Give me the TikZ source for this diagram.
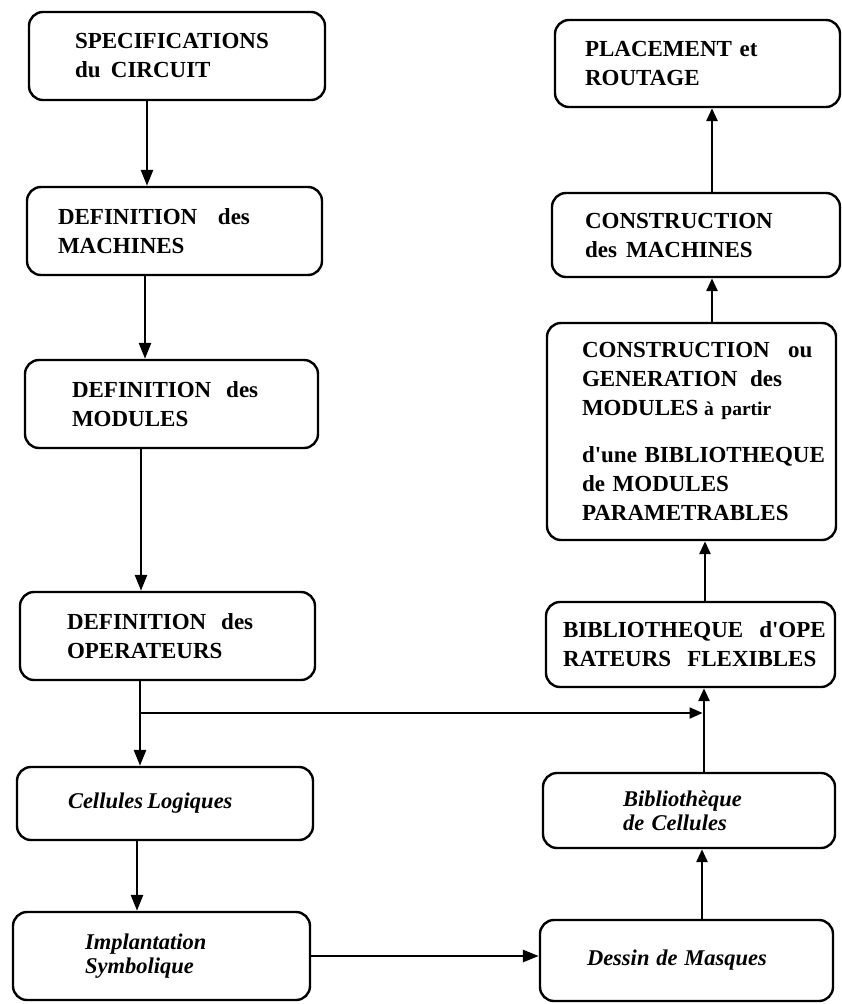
\documentclass[tikz,border=0pt]{standalone}
\usepackage{fontspec}
\setmainfont{Liberation Serif}
\usetikzlibrary{arrows.meta}

\begin{document}
\begin{tikzpicture}[x=1pt,y=-1pt,
  box/.style={draw, line width=2.4pt, rounded corners=14pt, align=left,
    inner ysep=0pt, font=\bfseries\fontsize{23}{29}\selectfont},
  itbox/.style={box, font=\bfseries\itshape\fontsize{22.5}{24}\selectfont},
  flow/.style={line width=2.8pt, -{Triangle[length=16pt,width=12pt]}},
  flowup/.style={line width=2.8pt, -{Triangle[length=13pt,width=11pt]}},
  feed/.style={line width=1.8pt, -{Triangle[length=13pt,width=11pt]}},
]
\useasboundingbox[fill=white] (0,0) rectangle (842,1004);

% left column: from specification down to symbolic layout
\node[box, minimum height=88pt, inner xsep=46pt, text width=204pt] (b1) at (177,56)
  {\mbox{SPECIFICATIONS}\\\mbox{du\hspace{0.45em}CIRCUIT}};
\node[box, minimum height=88pt, inner xsep=31pt, text width=233pt] (b2) at (174.5,231)
  {\mbox{DEFINITION\hspace{0.9em}des}\\\mbox{MACHINES}};
\node[box, minimum height=88pt, inner xsep=47pt, text width=199pt] (b3) at (171.5,404)
  {\mbox{DEFINITION\hspace{0.65em}des}\\\mbox{MODULES}};
\node[box, minimum height=88pt, inner xsep=47pt, text width=201pt] (b4) at (167.5,636)
  {\mbox{DEFINITION\hspace{0.65em}des}\\\mbox{OPERATEURS}};
\node[itbox, minimum height=73pt, inner xsep=51pt, text width=194pt] (b5) at (165,803.5)
  {\mbox{Cellules\hspace{0.2em}Logiques}};
\node[itbox, minimum height=88pt, inner xsep=72pt, text width=153pt] (b6) at (161.5,956)
  {\mbox{Implantation}\\\mbox{Symbolique}};

% right column: from mask drawing up to placement and routing
\node[box, minimum height=87pt, inner xsep=30pt, text width=225pt] (r1) at (697.5,63.5)
  {\mbox{PLACEMENT et}\\\mbox{ROUTAGE}};
\node[box, minimum height=84pt, inner xsep=33pt, text width=222pt] (r2) at (696,235)
  {\mbox{CONSTRUCTION}\\\mbox{des\hspace{0.4em}MACHINES}};
\node[box, minimum height=217pt, inner xsep=35pt, text width=219pt] (r3) at (691.5,431.5)
  {\mbox{CONSTRUCTION\hspace{0.8em}ou}\\
   \mbox{GENERATION\hspace{0.55em}des}\\
   \mbox{MODULES\hspace{0.25em}{\fontsize{19.5}{29}\selectfont à partir}}\\[18pt]
   \mbox{d\textquotesingle une BIBLIOTHEQUE}\\
   \mbox{de MODULES}\\
   \mbox{PARAMETRABLES}};
\node[box, minimum height=85pt, inner xsep=17pt, text width=255pt] (r4) at (690.5,644.5)
  {\mbox{BIBLIOTHEQUE\hspace{0.7em}d\textquotesingle OPE}\\\mbox{RATEURS\hspace{0.7em}FLEXIBLES}};
\node[itbox, minimum height=75pt, inner xsep=80pt, text width=132pt] (r5) at (689,810.5)
  {\mbox{Bibliothèque}\\\mbox{de Cellules}};
\node[itbox, minimum height=81pt, inner xsep=47pt, text width=199pt] (r6) at (686.5,960.5)
  {\mbox{Dessin\hspace{0.3em}de\hspace{0.3em}Masques}};

% abscissae of the vertical connectors
\coordinate (L12) at (147,0);
\coordinate (L23) at (145,0);
\coordinate (L34) at (141,0);
\coordinate (L45) at (140,0);
\coordinate (L56) at (137,0);
\coordinate (R65) at (702,0);
\coordinate (R54) at (704,0);
\coordinate (R43) at (705,0);
\coordinate (R32) at (712,0);
\coordinate (R21) at (712,0);
\coordinate (split) at (140,713);

% downward flow on the left
\draw[flow] (b1.south -| L12) -- (b2.north -| L12);
\draw[flow] (b2.south -| L23) -- (b3.north -| L23);
\draw[flow] (b3.south -| L34) -- (b4.north -| L34);
\draw[flow] (b4.south -| L45) -- (b5.north -| L45);
\draw[flow] (b5.south -| L56) -- (b6.north -| L56);

% across the bottom
\draw[flow] (b6.east) -- (b6.east -| r6.west);

% upward flow on the right
\draw[flowup] (r6.north -| R65) -- (r5.south -| R65);
\draw[flowup] (r5.north -| R54) -- (r4.south -| R54);
\draw[flowup] (r4.north -| R43) -- (r3.south -| R43);
\draw[flowup] (r3.north -| R32) -- (r2.south -| R32);
\draw[flowup] (r2.north -| R21) -- (r1.south -| R21);

% operators also feed the flexible operator library
\draw[feed, shorten >=1.4pt] (split) -- (split -| R54);
\end{tikzpicture}
\end{document}
